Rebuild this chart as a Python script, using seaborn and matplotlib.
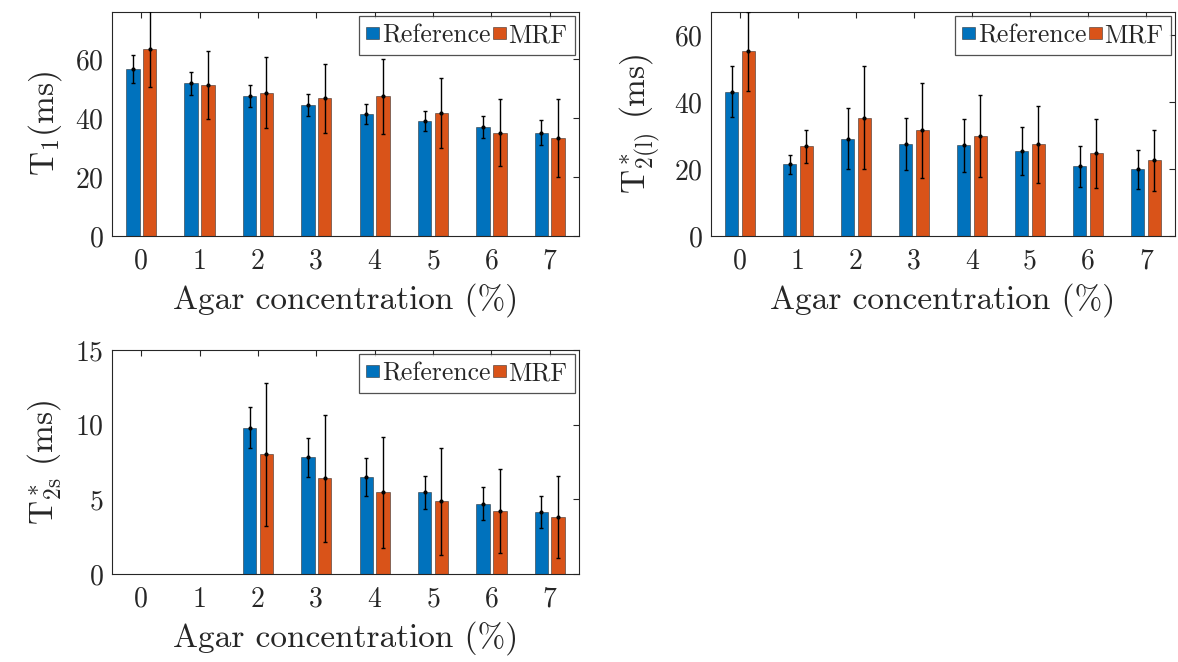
import numpy as np
import pandas as pd
import matplotlib
matplotlib.use("Agg")
import matplotlib.pyplot as plt
import seaborn as sns

# ---------------- data ----------------
concentrations = ["0", "1", "2", "3", "4", "5", "6", "7"]
methods = ["Reference", "MRF"]

t1_ref = [56.7, 51.9, 47.5, 44.4, 41.3, 38.9, 37.0, 35.1]
t1_ref_err = [4.7, 3.9, 3.7, 3.8, 3.4, 3.4, 3.6, 4.1]
t1_mrf = [63.4, 51.2, 48.6, 46.8, 47.4, 41.7, 35.0, 33.3]
t1_mrf_err = [13.0, 11.5, 12.0, 11.7, 12.8, 11.8, 11.4, 13.2]

t2l_ref = [43.2, 21.4, 29.1, 27.5, 27.1, 25.4, 20.9, 19.9]
t2l_ref_err = [7.6, 2.75, 9.2, 7.7, 7.9, 7.3, 6.1, 5.75]
t2l_mrf = [55.2, 26.8, 35.3, 31.6, 29.8, 27.4, 24.8, 22.7]
t2l_mrf_err = [11.8, 5.0, 15.4, 14.3, 12.3, 11.4, 10.3, 9.1]

t2s_ref = [np.nan, np.nan, 9.81, 7.82, 6.51, 5.46, 4.72, 4.15]
t2s_ref_err = [np.nan, np.nan, 1.38, 1.30, 1.28, 1.12, 1.10, 1.08]
t2s_mrf = [np.nan, np.nan, 8.02, 6.40, 5.46, 4.86, 4.21, 3.81]
t2s_mrf_err = [np.nan, np.nan, 4.80, 4.23, 3.74, 3.60, 2.82, 2.72]

colors = ["#0072BD", "#D95319"]

# ---------------- style ----------------
sns.set_style("white")
plt.rcParams["font.family"] = ["serif"]
plt.rcParams["font.serif"] = ["cmr10", "DejaVu Serif"]
plt.rcParams["mathtext.fontset"] = "cm"
plt.rcParams["axes.formatter.use_mathtext"] = True
plt.rcParams["axes.unicode_minus"] = False

fig = plt.figure(figsize=(11.78, 6.62), dpi=100)
W, H = 1178, 662


def axes_px(x0, y0, x1, y1):
    return fig.add_axes([x0 / W, 1 - y1 / H, (x1 - x0) / W, (y1 - y0) / H])


ax1 = axes_px(112, 12, 579, 236)
ax2 = axes_px(711, 12, 1175, 236)
ax3 = axes_px(112, 350, 579, 574)


def panel(ax, ref, ref_err, mrf, mrf_err, ylim, yticks, ylabel):
    df = pd.DataFrame({
        "conc": concentrations * 2,
        "value": list(ref) + list(mrf),
        "method": [methods[0]] * len(concentrations) + [methods[1]] * len(concentrations),
    })
    sns.barplot(data=df, x="conc", y="value", hue="method", order=concentrations,
                hue_order=methods, palette=colors, width=0.577, gap=0.2,
                errorbar=None, saturation=1, ax=ax,
                edgecolor=(0.15, 0.15, 0.15, 0.6), linewidth=0.6)
    errs = [(ref, ref_err), (mrf, mrf_err)]
    for cont, (vals, ev) in zip(ax.containers, errs):
        xs, ys, es = [], [], []
        for p in cont.patches:
            cx = p.get_x() + p.get_width() / 2
            i = int(round(cx))
            if 0 <= i < len(vals) and np.isfinite(vals[i]):
                xs.append(cx)
                ys.append(vals[i])
                es.append(ev[i])
        ax.errorbar(xs, ys, yerr=es, fmt=".", color="black", ecolor="black",
                    elinewidth=1.0, capsize=1.6, capthick=1.0, markersize=4,
                    zorder=5)
    ax.set_xlim(-0.5, 7.5)
    ax.set_ylim(*ylim)
    ax.set_yticks(yticks)
    ax.set_xlabel("Agar concentration (%)", fontsize=24, labelpad=6)
    ax.set_ylabel(ylabel, fontsize=24, labelpad=8)
    ax.tick_params(axis="both", which="major", direction="in", length=4,
                   width=0.8, top=True, right=True, labelsize=20,
                   color="#262626", labelcolor="#262626")
    ax.tick_params(axis="x", pad=9)
    ax.tick_params(axis="y", pad=6)
    for s in ax.spines.values():
        s.set_visible(True)
        s.set_color("#262626")
        s.set_linewidth(0.8)
    leg = ax.get_legend()
    if leg is not None:
        leg.remove()
    handles = [plt.Rectangle((0, 0), 1, 1, facecolor=c, edgecolor=(0.15, 0.15, 0.15, 0.6),
                             linewidth=0.6) for c in colors]
    lg = ax.legend(handles, methods, loc="upper right", ncol=2, fontsize=18.5,
                   frameon=True, fancybox=False, edgecolor="#262626",
                   handlelength=0.5, handleheight=0.35, handletextpad=0.1,
                   columnspacing=0.1, borderpad=0.3, borderaxespad=0.15)
    lg.get_frame().set_linewidth(0.9)
    for t in lg.get_texts():
        t.set_color("#262626")


panel(ax1, t1_ref, t1_ref_err, t1_mrf, t1_mrf_err, (0, 76), [0, 20, 40, 60],
      r"T$_1$(ms)")
panel(ax2, t2l_ref, t2l_ref_err, t2l_mrf, t2l_mrf_err, (0, 67), [0, 20, 40, 60],
      r"T$^*_{2(\mathrm{l})}$ (ms)")
panel(ax3, t2s_ref, t2s_ref_err, t2s_mrf, t2s_mrf_err, (0, 15), [0, 5, 10, 15],
      r"T$^*_{2\mathrm{s}}$ (ms)")

fig.savefig("out.png", dpi=100)
